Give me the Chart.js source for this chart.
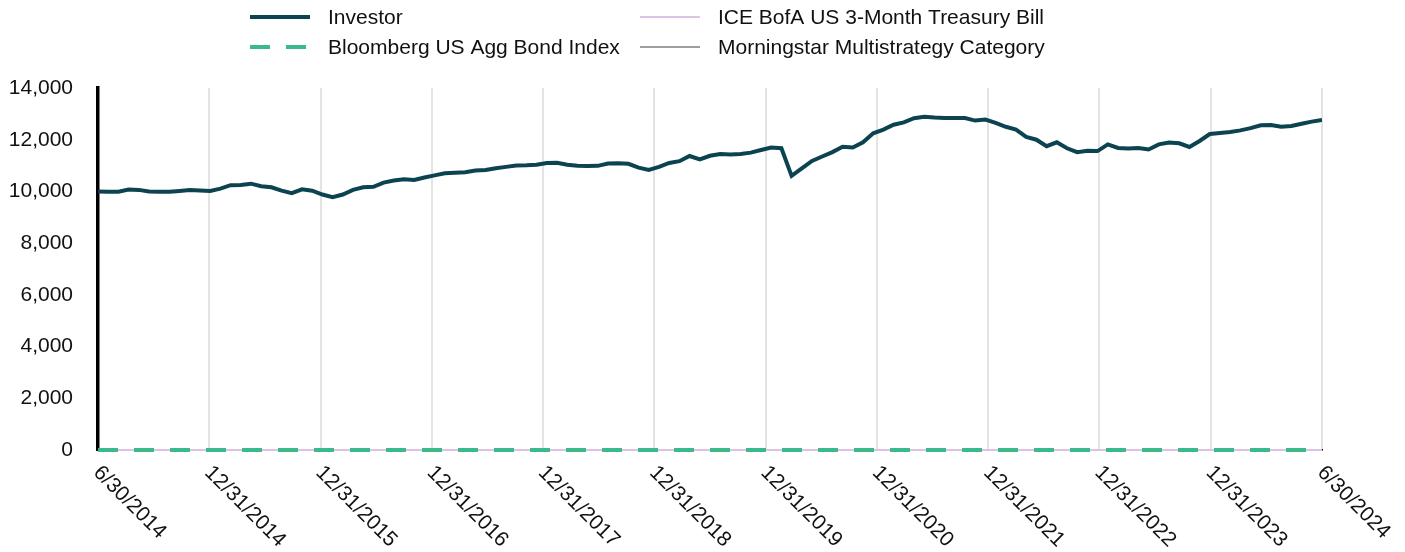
<!DOCTYPE html>
<html>
<head>
<meta charset="utf-8">
<script src="https://cdn.jsdelivr.net/npm/chart.js@4.4.1/dist/chart.umd.min.js"></script>
<style>
    html, body { margin: 0; padding: 0; background: #fff; }
    #wrap { width: 1405px; height: 552px; position: relative; }
    #myChart { display: block; }
</style>
</head>
<body>
<div id="wrap"><canvas id="myChart" width="1405" height="552"></canvas></div>
<script>
const seriesNames = ['Investor', 'Bloomberg US Agg Bond Index', 'ICE BofA US 3-Month Treasury Bill', 'Morningstar Multistrategy Category'];

const tickLabels = ['6/30/2014', '12/31/2014', '12/31/2015', '12/31/2016', '12/31/2017', '12/31/2018',
    '12/31/2019', '12/31/2020', '12/31/2021', '12/31/2022', '12/31/2023', '6/30/2024'];

const yTicks = [0, 2000, 4000, 6000, 8000, 10000, 12000, 14000];

// monthly values, 6/30/2014 .. 6/30/2024
const investor = [
    10000, 9990, 9990, 10070, 10060, 10000, 9990, 9990, 10020, 10055,
    10040, 10020, 10110, 10240, 10250, 10300, 10200, 10160, 10030, 9930,
    10080, 10030, 9880, 9780, 9880, 10060, 10160, 10180, 10340, 10420,
    10470, 10440, 10540, 10620, 10700, 10720, 10740, 10810, 10830, 10900,
    10950, 11000, 11010, 11030, 11100, 11110, 11030, 10990, 10980, 10990,
    11080, 11090, 11070, 10920, 10830, 10950, 11100, 11170, 11370, 11240,
    11380, 11450, 11430, 11450, 11500, 11600, 11700, 11670, 10600, 10890,
    11180, 11350, 11520, 11730, 11700, 11900, 12250, 12390, 12580, 12670,
    12830, 12890, 12860, 12840, 12840, 12840, 12740, 12780, 12650, 12500,
    12390, 12110, 12000, 11750, 11900, 11670, 11520, 11570, 11560, 11820,
    11680, 11660, 11680, 11620, 11820, 11890, 11860, 11720, 11950, 12220,
    12260, 12300, 12360, 12450, 12560, 12570, 12500, 12530, 12620, 12700, 12760
];

// the three benchmark lines sit on 0 for the whole period
const bloomberg = [
    0, 0, 0, 0, 0, 0, 0, 0, 0, 0, 0, 0, 0, 0, 0, 0, 0, 0, 0, 0,
    0, 0, 0, 0, 0, 0, 0, 0, 0, 0, 0, 0, 0, 0, 0, 0, 0, 0, 0, 0,
    0, 0, 0, 0, 0, 0, 0, 0, 0, 0, 0, 0, 0, 0, 0, 0, 0, 0, 0, 0,
    0, 0, 0, 0, 0, 0, 0, 0, 0, 0, 0, 0, 0, 0, 0, 0, 0, 0, 0, 0,
    0, 0, 0, 0, 0, 0, 0, 0, 0, 0, 0, 0, 0, 0, 0, 0, 0, 0, 0, 0,
    0, 0, 0, 0, 0, 0, 0, 0, 0, 0, 0, 0, 0, 0, 0, 0, 0, 0, 0, 0, 0
];
const iceTbill = [
    0, 0, 0, 0, 0, 0, 0, 0, 0, 0, 0, 0, 0, 0, 0, 0, 0, 0, 0, 0,
    0, 0, 0, 0, 0, 0, 0, 0, 0, 0, 0, 0, 0, 0, 0, 0, 0, 0, 0, 0,
    0, 0, 0, 0, 0, 0, 0, 0, 0, 0, 0, 0, 0, 0, 0, 0, 0, 0, 0, 0,
    0, 0, 0, 0, 0, 0, 0, 0, 0, 0, 0, 0, 0, 0, 0, 0, 0, 0, 0, 0,
    0, 0, 0, 0, 0, 0, 0, 0, 0, 0, 0, 0, 0, 0, 0, 0, 0, 0, 0, 0,
    0, 0, 0, 0, 0, 0, 0, 0, 0, 0, 0, 0, 0, 0, 0, 0, 0, 0, 0, 0, 0
];
const morningstar = [
    0, 0, 0, 0, 0, 0, 0, 0, 0, 0, 0, 0, 0, 0, 0, 0, 0, 0, 0, 0,
    0, 0, 0, 0, 0, 0, 0, 0, 0, 0, 0, 0, 0, 0, 0, 0, 0, 0, 0, 0,
    0, 0, 0, 0, 0, 0, 0, 0, 0, 0, 0, 0, 0, 0, 0, 0, 0, 0, 0, 0,
    0, 0, 0, 0, 0, 0, 0, 0, 0, 0, 0, 0, 0, 0, 0, 0, 0, 0, 0, 0,
    0, 0, 0, 0, 0, 0, 0, 0, 0, 0, 0, 0, 0, 0, 0, 0, 0, 0, 0, 0,
    0, 0, 0, 0, 0, 0, 0, 0, 0, 0, 0, 0, 0, 0, 0, 0, 0, 0, 0, 0, 0
];

const FONT = '"Liberation Sans", Arial, sans-serif';
const lastIndex = investor.length - 1;

// legend in 2 columns, drawn on the canvas
const legendPlugin = {
    id: 'twoColLegend',
    afterDraw(chart) {
        const ctx = chart.ctx;
        const cols = [250, 640], rows = [17, 47];
        ctx.save();
        ctx.font = '21px ' + FONT;
        ctx.textBaseline = 'middle';
        ctx.textAlign = 'left';
        chart.data.datasets.forEach((ds, i) => {
            const x = cols[Math.floor(i / 2)], y = rows[i % 2];
            ctx.beginPath();
            ctx.strokeStyle = ds.borderColor;
            ctx.lineWidth = ds.borderWidth;
            ctx.setLineDash(ds.borderDash || []);
            ctx.moveTo(x, y);
            ctx.lineTo(x + 60, y);
            ctx.stroke();
            ctx.setLineDash([]);
            ctx.fillStyle = '#111';
            ctx.fillText(ds.label, x + 78, y + 1);
        });
        ctx.restore();
    }
};

// x tick labels slanted down to the right
const xLabelPlugin = {
    id: 'slantLabels',
    afterDraw(chart) {
        const ctx = chart.ctx;
        const xs = chart.scales.x;
        const top = chart.chartArea.bottom;
        ctx.save();
        ctx.font = '21px ' + FONT;
        ctx.fillStyle = '#111';
        ctx.textAlign = 'left';
        ctx.textBaseline = 'top';
        xs.ticks.forEach((t, k) => {
            const px = xs.getPixelForValue(t.value);
            ctx.save();
            ctx.translate(px + 6, top + 12);
            ctx.rotate(Math.PI / 4);
            ctx.fillText(tickLabels[k], 0, 0);
            ctx.restore();
        });
        ctx.restore();
    }
};

const ctx = document.getElementById('myChart').getContext('2d');
const myChart = new Chart(ctx, {
    type: 'line',
    data: {
        labels: investor.map((v, i) => i),
        datasets: [{
                label: seriesNames[0],
                data: investor,
                borderColor: '#0c4350',
                borderWidth: 4
            }, {
                label: seriesNames[1],
                data: bloomberg,
                borderColor: '#3bb98d',
                borderWidth: 4,
                borderDash: [20, 16],
                clip: false
            }, {
                label: seriesNames[2],
                data: iceTbill,
                borderColor: '#dcc2e3',
                borderWidth: 2,
                clip: false
            }, {
                label: seriesNames[3],
                data: morningstar,
                borderColor: '#9e9e9e',
                borderWidth: 2,
                clip: false
            }]
    },
    options: {
        responsive: false,
        animation: false,
        devicePixelRatio: 1,
        layout: {
            padding: { top: 88, right: 83, bottom: 102, left: 0 }
        },
        elements: {
            point: { radius: 0 },
            line: { tension: 0, borderCapStyle: 'butt' }
        },
        plugins: {
            legend: { display: false },
            tooltip: { enabled: false }
        },
        scales: {
            x: {
                type: 'linear',
                min: 0,
                max: lastIndex,
                afterBuildTicks: (scale) => {
                    scale.ticks = tickLabels.map((l, k) => ({ value: k * lastIndex / (tickLabels.length - 1) }));
                },
                afterFit: (scale) => { scale.height = 0; },
                ticks: { display: false },
                grid: { color: '#e4e4e4', lineWidth: 2, drawTicks: false },
                border: { display: true, color: '#000', width: 1.5 }
            },
            y: {
                min: 0,
                max: 14000,
                afterBuildTicks: (scale) => {
                    scale.ticks = yTicks.map(v => ({ value: v }));
                },
                afterFit: (scale) => { scale.width = 98; },
                ticks: {
                    color: '#111',
                    padding: 25,
                    font: { size: 21, family: FONT },
                    callback: (v) => v.toLocaleString('en-US')
                },
                grid: { display: false, drawTicks: false },
                border: { display: true, color: '#000', width: 3.5 }
            }
        }
    },
    plugins: [legendPlugin, xLabelPlugin]
});
</script>
</body>
</html>
